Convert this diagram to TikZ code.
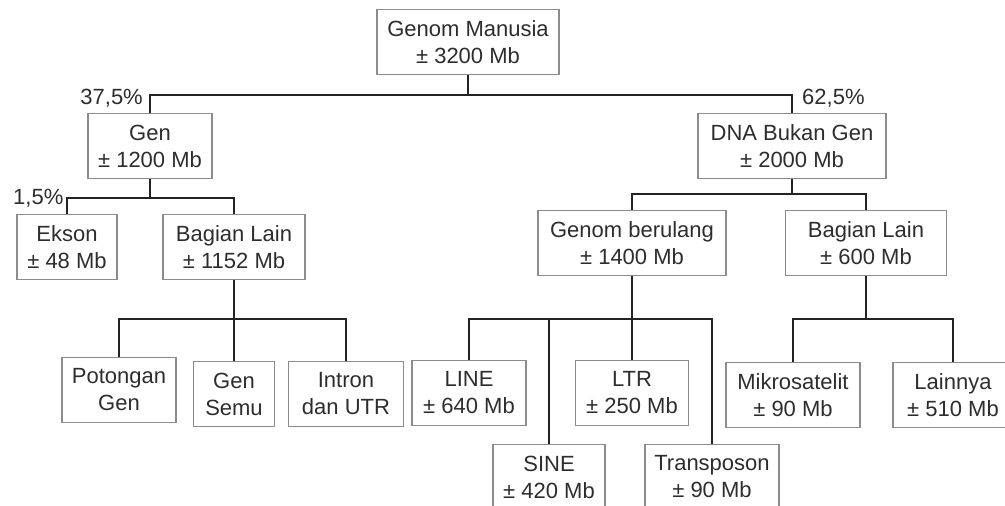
\documentclass[tikz,border=0pt]{standalone}
\usepackage{fontspec}
\setmainfont{Liberation Sans}
\usetikzlibrary{positioning}
\definecolor{txt}{RGB}{45, 45, 45}
\definecolor{frame}{RGB}{140, 140, 140}
\definecolor{wire}{RGB}{35, 35, 35}

\begin{document}
\begin{tikzpicture}[x=1pt, y=-1pt]
    \tikzstyle{box}=[draw=frame, line width=1.3pt, text=txt, align=center,
    inner sep=0pt, minimum height=65pt, font=\fontsize{22}{27}\selectfont]
    \tikzstyle{wire}=[line width=2.4pt, color=wire]
    \tikzstyle{pct}=[text=txt, inner sep=0pt, font=\fontsize{22}{27}\selectfont]

    % Canvas
    \useasboundingbox (0, 0) rectangle (1005, 506);
    \clip (0, 0) rectangle (1005, 506);

    % Root
    \node [box, minimum width=182pt] (manusia) at (468, 42) {Genom Manusia\\± 3200 Mb};

    % Second level
    \node [box, minimum width=124pt] (gen) at (150, 146) {Gen\\± 1200 Mb};
    \node [box, minimum width=188pt] (dna) at (792, 146) {DNA Bukan Gen\\± 2000 Mb};

    % Third level
    \node [box, minimum width=100pt] (ekson) at (67, 247) {Ekson\\± 48 Mb};
    \node [box, minimum width=142pt] (lainkiri) at (234, 247) {Bagian Lain\\± 1152 Mb};
    \node [box, minimum width=188pt] (berulang) at (632, 243) {Genom berulang\\± 1400 Mb};
    \node [box, minimum width=161pt] (lainkanan) at (866, 243) {Bagian Lain\\± 600 Mb};

    % Fourth level
    \node [box, minimum width=114pt] (potongan) at (119, 390) {Potongan\\Gen};
    \node [box, minimum width=81pt] (semu) at (234, 394) {Gen\\Semu};
    \node [box, minimum width=115pt] (intron) at (346, 394) {Intron\\dan UTR};
    \node [box, minimum width=114pt] (line) at (469, 393) {LINE\\± 640 Mb};
    \node [box, minimum width=113pt] (ltr) at (632, 393) {LTR\\± 250 Mb};
    \node [box, minimum width=112pt] (sine) at (549, 477) {SINE\\± 420 Mb};
    \node [box, minimum width=134pt] (transposon) at (712, 477) {Transposon\\± 90 Mb};
    \node [box, minimum width=134pt] (mikro) at (793, 395) {Mikrosatelit\\± 90 Mb};
    \node [box, minimum width=120pt] (lainnya) at (953, 395) {Lainnya\\± 510 Mb};

    % Percent labels
    \node [pct, anchor=base east] (p375) at (143, 104) {37,5\%};
    \node [pct, anchor=base west] (p625) at (802, 104) {62,5\%};
    \node [pct, anchor=base west] (p15) at (13, 204) {1,5\%};

    % Branch points
    \coordinate (j0) at (468, 95);
    \coordinate (j1) at (150, 198);
    \coordinate (j2) at (792, 194);
    \coordinate (j3) at (234, 319);
    \coordinate (j4) at (632, 319);
    \coordinate (j5) at (866, 319);

    % Root to second level
    \draw [wire] (manusia.south) -- (j0);
    \draw [wire] (j0) -| (gen.north);
    \draw [wire] (j0) -| (dna.north);

    % Gen
    \draw [wire] (gen.south) -- (j1);
    \draw [wire] (j1) -| (ekson.north);
    \draw [wire] (j1) -| (lainkiri.north);

    % DNA Bukan Gen
    \draw [wire] (dna.south) -- (j2);
    \draw [wire] (j2) -| (berulang.north);
    \draw [wire] (j2) -| (lainkanan.north);

    % Bagian Lain (gen)
    \draw [wire] (lainkiri.south) -- (j3);
    \draw [wire] (j3) -| (potongan.north);
    \draw [wire] (j3) -- (semu.north);
    \draw [wire] (j3) -| (intron.north);

    % Genom berulang
    \draw [wire] (berulang.south) -- (j4);
    \draw [wire] (j4) -| (line.north);
    \draw [wire] (j4) -| (sine.north);
    \draw [wire] (j4) -- (ltr.north);
    \draw [wire] (j4) -| (transposon.north);

    % Bagian Lain (bukan gen)
    \draw [wire] (lainkanan.south) -- (j5);
    \draw [wire] (j5) -| (mikro.north);
    \draw [wire] (j5) -| (lainnya.north);

\end{tikzpicture}
\end{document}
